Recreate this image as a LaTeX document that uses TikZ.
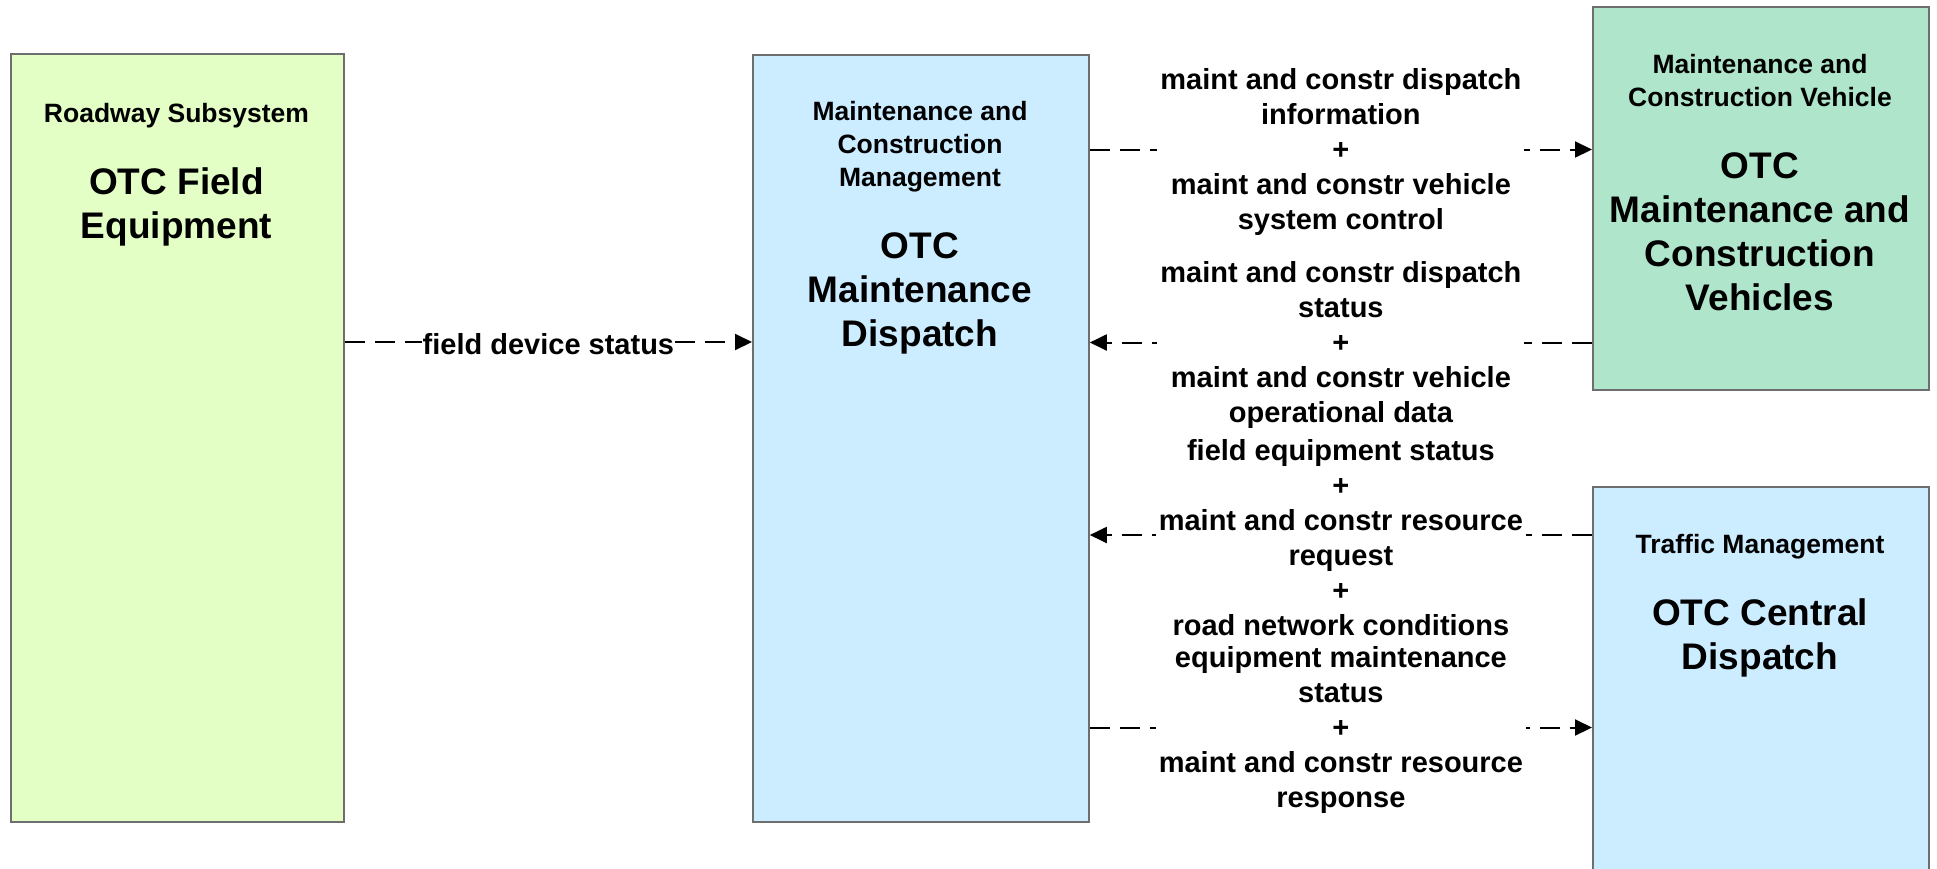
\documentclass[tikz,border=0pt]{standalone}
\usepackage{fontspec}
\setmainfont{Liberation Sans}
\usetikzlibrary{arrows.meta}
\definecolor{roadfill}{HTML}{E4FFC6}
\definecolor{bluefill}{HTML}{CCECFF}
\definecolor{mintfill}{HTML}{AFE5CB}
\definecolor{boxgray}{HTML}{6E6E6E}
\tikzset{
  box/.style={draw=boxgray, line width=1.8pt, inner sep=0pt, anchor=north west},
  smalltxt/.style={font=\fontsize{26.5}{33}\selectfont\bfseries, align=center, inner sep=0pt},
  bigtxt/.style={font=\fontsize{37}{44}\selectfont\bfseries, align=center, inner sep=0pt},
  lab/.style={font=\fontsize{29}{35}\selectfont\bfseries, align=center, fill=white, inner xsep=3pt, inner ysep=0pt, yshift=-2.5pt},
  conn/.style={line width=2pt, dash pattern=on 20pt off 10pt, -{Triangle[length=17pt,width=16pt]}}
}
\begin{document}
\begin{tikzpicture}[x=1pt,y=-1pt]
\useasboundingbox (0,0) rectangle (1937,868);
\clip (0,0) rectangle (1937,868);
% boxes
\node[box, fill=roadfill, minimum width=333pt, minimum height=768pt] (road) at (10,53) {};
\node[box, fill=bluefill, minimum width=336pt, minimum height=767pt] (disp) at (752,54) {};
\node[box, fill=mintfill, minimum width=336pt, minimum height=383pt] (mcv) at (1592,6) {};
\node[box, fill=bluefill, minimum width=336pt, minimum height=420pt] (tm) at (1592,486) {};
% box texts
\node[smalltxt] (roadsub) at (176.5,116) {\strut Roadway Subsystem\strut};
\node[bigtxt] (roadname) at (176.5,207.5) {\strut OTC Field\\Equipment\strut};
\node[smalltxt] (dispsub) at (920,147) {\strut Maintenance and\\Construction\\Management\strut};
\node[bigtxt] (dispname) at (920,294) {\strut OTC\\Maintenance\\Dispatch\strut};
\node[smalltxt] (mcvsub) at (1760,83) {\strut Maintenance and\\Construction Vehicle\strut};
\node[bigtxt] (mcvname) at (1760,236) {\strut OTC\\Maintenance and\\Construction\\Vehicles\strut};
\node[smalltxt] (tmsub) at (1760,546.5) {\strut Traffic Management\strut};
\node[bigtxt] (tmname) at (1760,638.5) {\strut OTC Central\\Dispatch\strut};
% connectors
\draw[conn] (road.east |- 0,342) -- node[lab, inner xsep=1pt] (l0) {field device status} (disp.west |- 0,342);
\draw[conn] (disp.east |- 0,149.5) -- node[lab] (l1) {maint and constr dispatch\\information\\+\\maint and constr vehicle\\system control} (mcv.west |- 0,149.5);
\draw[conn] (mcv.west |- 0,342.5) -- node[lab] (l2) {maint and constr dispatch\\status\\+\\maint and constr vehicle\\operational data} (disp.east |- 0,342.5);
\draw[conn] (tm.west |- 0,535) -- node[lab] (l3) {field equipment status\\+\\maint and constr resource\\request\\+\\road network conditions} (disp.east |- 0,535);
\draw[conn] (disp.east |- 0,727.5) -- node[lab] (l4) {equipment maintenance\\status\\+\\maint and constr resource\\response} (tm.west |- 0,727.5);
\end{tikzpicture}
\end{document}
